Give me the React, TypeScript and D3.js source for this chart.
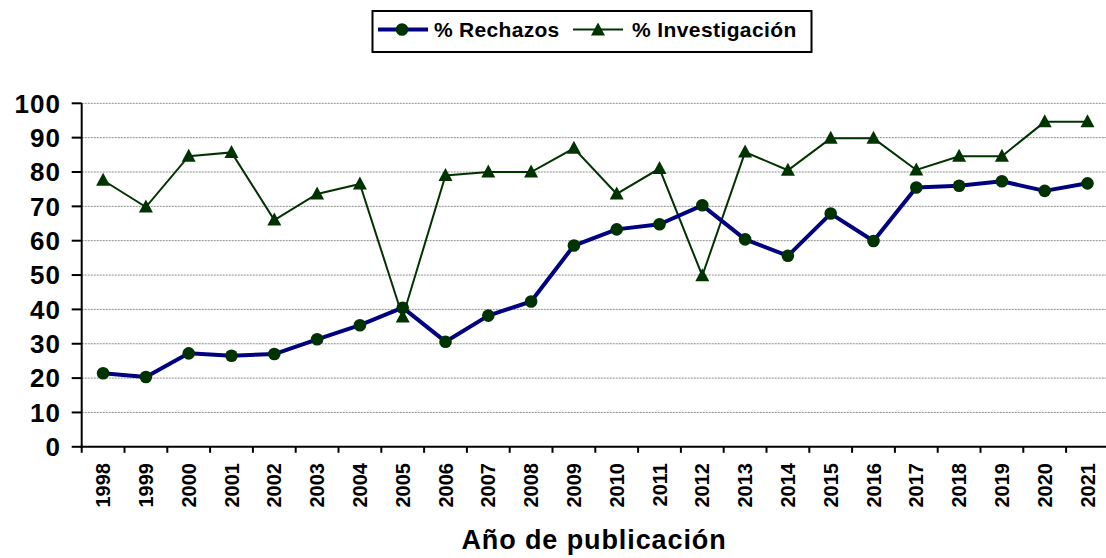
import React from "react";
import * as d3 from "d3";

const years = ["1998","1999","2000","2001","2002","2003","2004","2005","2006","2007","2008","2009","2010","2011","2012","2013","2014","2015","2016","2017","2018","2019","2020","2021"];
const rechazos = [21.4, 20.3, 27.2, 26.5, 27.0, 31.3, 35.4, 40.5, 30.6, 38.2, 42.3, 58.6, 63.3, 64.8, 70.3, 60.4, 55.6, 67.9, 59.9, 75.5, 76.0, 77.3, 74.5, 76.7];
const investigacion = [77.6, 69.8, 84.6, 85.7, 66.0, 73.6, 76.5, 37.8, 79.0, 80.0, 80.0, 86.9, 73.6, 81.0, 49.8, 85.8, 80.5, 89.8, 89.8, 80.6, 84.6, 84.6, 94.6, 94.6];
const yTicks = [0, 10, 20, 30, 40, 50, 60, 70, 80, 90, 100];
const seriesNames = ["% Rechazos", "% Investigación"];
const xTitle = "Año de publicación";

const W = 1106, H = 558;
const FONT = "'Liberation Sans', Arial, Helvetica, sans-serif";
const NAVY = "#000080";
const GREEN = "#003300";

const triPath = "M0,-7.5L7,5.5L-7,5.5Z";

export default function App() {
  const x0 = 81.7;
  const step = 42.8;
  const x = d3.scaleBand<string>().domain(years).range([x0, x0 + step * years.length]).padding(0);
  const y = d3.scaleLinear().domain([0, 100]).range([446.8, 103.3]);
  const cx = (i: number) => (x(years[i]) as number) + x.bandwidth() / 2;

  const line = d3.line<number>().x((_, i) => cx(i)).y((d) => y(d));

  const boundaries = years.map((yr) => x(yr) as number);

  return (
    <svg width={W} height={H} style={{ position: "absolute", left: 0, top: 0, background: "#fff" }} fontFamily={FONT}>
      <rect x={0} y={0} width={W} height={H} fill="#fff" />
      {yTicks.filter((t) => t > 0).map((t) => (
        <line key={"g" + t} x1={x0} x2={W} y1={y(t)} y2={y(t)} stroke="#8c8c8c" strokeWidth={1} strokeDasharray="2,1" />
      ))}
      <line x1={x0} x2={x0} y1={y(100)} y2={y(0) + 1} stroke="#000" strokeWidth={2} />
      {yTicks.map((t) => (
        <g key={"yt" + t}>
          <line x1={x0 - 10} x2={x0} y1={y(t)} y2={y(t)} stroke="#000" strokeWidth={2} />
          <text x={61} y={y(t)} dy={9.3} textAnchor="end" fontSize={26} fontWeight="bold" letterSpacing={1} fill="#000">{t}</text>
        </g>
      ))}
      <line x1={x0 - 1} x2={W} y1={y(0)} y2={y(0)} stroke="#000" strokeWidth={2} />
      {boundaries.map((b, i) => (
        <line key={"xt" + i} x1={b} x2={b} y1={y(0)} y2={y(0) + 6} stroke="#000" strokeWidth={2} />
      ))}
      {years.map((yr, i) => (
        <text key={"xl" + yr} transform={`translate(${cx(i) + 7},463) rotate(-90)`} textAnchor="end" fontSize={20} fontWeight="bold" fill="#000">{yr}</text>
      ))}
      <text x={594} y={549.3} textAnchor="middle" fontSize={27} fontWeight="bold" letterSpacing={0.9} fill="#000">{xTitle}</text>

      <path d={line(investigacion) || ""} fill="none" stroke={GREEN} strokeWidth={2} />
      <path d={line(rechazos) || ""} fill="none" stroke={NAVY} strokeWidth={4} strokeLinejoin="round" />
      {rechazos.map((v, i) => (
        <circle key={"c" + i} cx={cx(i)} cy={y(v)} r={6.3} fill={GREEN} />
      ))}
      {investigacion.map((v, i) => (
        <path key={"t" + i} d={triPath} transform={`translate(${cx(i)},${y(v)})`} fill={GREEN} />
      ))}

      <rect x={372.5} y={11} width={439} height={41} fill="#fff" stroke="#000" strokeWidth={2} />
      <line x1={378} x2={428} y1={29.5} y2={29.5} stroke={NAVY} strokeWidth={4} />
      <circle cx={402} cy={29.5} r={6.3} fill={GREEN} />
      <text x={434} y={37} fontSize={21} fontWeight="bold" letterSpacing={0.3} fill="#000">{seriesNames[0]}</text>
      <line x1={573} x2={623} y1={29.5} y2={29.5} stroke={GREEN} strokeWidth={2} />
      <path d={triPath} transform="translate(598,30)" fill={GREEN} />
      <text x={632} y={37} fontSize={21} fontWeight="bold" letterSpacing={0.4} fill="#000">{seriesNames[1]}</text>
    </svg>
  );
}
